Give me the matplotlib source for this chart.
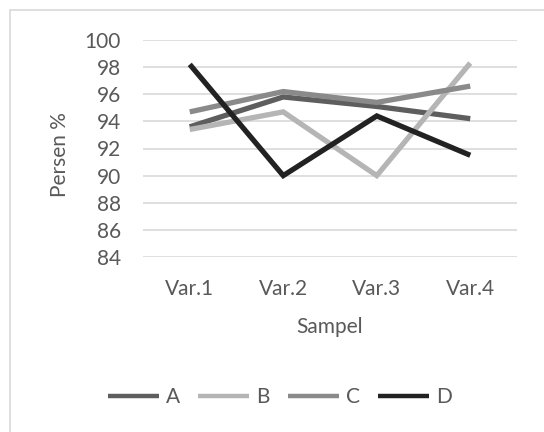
import matplotlib
matplotlib.use("Agg")
import matplotlib.pyplot as plt
from matplotlib.patches import Rectangle

categories = ["Var.1", "Var.2", "Var.3", "Var.4"]
series_names = ["A", "B", "C", "D"]
A = [93.6, 95.8, 95.1, 94.2]
B = [93.4, 94.7, 90.0, 98.3]
C = [94.7, 96.2, 95.4, 96.6]
D = [98.2, 90.0, 94.4, 91.5]
y_ticks = [84, 86, 88, 90, 92, 94, 96, 98, 100]

colors = ["#5e5e5e", "#b5b5b5", "#8a8a8a", "#222222"]
text_color = "#595959"
font = ["Lato", "DejaVu Sans"]
fs = 15

W, H = 544, 432
fig = plt.figure(figsize=(W / 100, H / 100), dpi=100)
fig.patch.set_facecolor("white")

# outer chart border (light gray), partially outside the image
fig.patches.append(Rectangle((10 / W, -0.1), 1.2, 1 - 10 / H + 0.1,
                             transform=fig.transFigure, fill=False,
                             edgecolor="#d9d9d9", linewidth=1.2))

left, right, top, bottom = 143, 517, 40, 257
ax = fig.add_axes([left / W, 1 - bottom / H, (right - left) / W, (bottom - top) / H])

x = list(range(len(categories)))
for name, vals, c in zip(series_names, [A, B, C, D], colors):
    ax.plot(x, vals, color=c, linewidth=3.8, label=name, solid_capstyle="butt",
            solid_joinstyle="miter", zorder=3)

ax.set_xlim(-0.5, len(categories) - 0.5)
ax.set_ylim(84, 100)
ax.set_yticks(y_ticks)
ax.set_xticks(x)
ax.set_xticklabels(categories)
ax.grid(axis="y", color="#d9d9d9", linewidth=1.2, zorder=0)
for s in ax.spines.values():
    s.set_visible(False)
ax.tick_params(length=0, labelsize=fs, labelcolor=text_color)
ax.tick_params(axis="y", pad=16)
ax.tick_params(axis="x", pad=16)
for lbl in ax.get_xticklabels() + ax.get_yticklabels():
    lbl.set_family(font)

fig.text(330 / W, 1 - 327 / H, "Sampel", ha="center", va="center",
         fontsize=fs, color=text_color, family=font)
fig.text(60 / W, 1 - 155 / H, "Persen %", ha="center", va="center",
         rotation=90, fontsize=fs, color=text_color, family=font)

leg = fig.legend(loc="center", bbox_to_anchor=(280 / W, 1 - 397 / H), ncol=4,
                 frameon=False, handlelength=2.45, handletextpad=0.35,
                 columnspacing=0.85, prop={"family": font, "size": fs})
for t in leg.get_texts():
    t.set_color(text_color)
for ln in leg.get_lines():
    ln.set_linewidth(3.2)

fig.savefig("out.png", dpi=100)
